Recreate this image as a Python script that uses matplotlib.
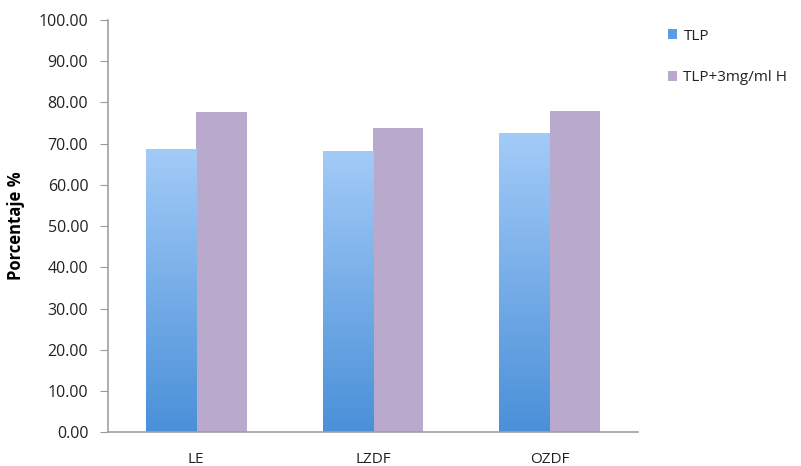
import numpy as np
import matplotlib.pyplot as plt
from matplotlib.colors import LinearSegmentedColormap
from matplotlib.patches import Patch

categories = ["LE", "LZDF", "OZDF"]
series_names = ["TLP", "TLP+3mg/ml H"]
tlp = [68.8, 68.2, 72.5]
tlp_h = [77.7, 73.8, 77.8]
yticks = [0, 10, 20, 30, 40, 50, 60, 70, 80, 90, 100]

plt.rcParams['font.family'] = ['Open Sans', 'DejaVu Sans']

fig = plt.figure(figsize=(8.01, 4.66), dpi=100)
ax = fig.add_axes([0.1345, 0.0723, 0.6624, 0.885])

x = np.arange(len(categories))
w = 0.285
blue_cmap = LinearSegmentedColormap.from_list("blue", ["#4a90d8", "#a3cbf8"])
purple = "#b9aacd"

bars1 = ax.bar(x - w / 2, tlp, w, color="none", edgecolor="none")
bars2 = ax.bar(x + w / 2, tlp_h, w, color=purple, edgecolor="none")

# vertical gradient fill for the first series, dark at the base, light at the top
grad = np.linspace(0, 1, 256).reshape(-1, 1)
for b in bars1:
    x0, x1 = b.get_x(), b.get_x() + b.get_width()
    h = b.get_height()
    im = ax.imshow(grad, cmap=blue_cmap, origin="lower", aspect="auto",
                   extent=[x0, x1, 0, h], vmin=0, vmax=1, zorder=2)
    im.set_clip_path(b)

ax.set_xlim(-0.5, 2.5)
ax.set_ylim(0, 100)
ax.set_xticks(x)
ax.set_xticklabels(categories, fontsize=11, color="#222222")
ax.set_yticks(yticks)
ax.set_yticklabels([f"{v:.2f}" for v in yticks], fontsize=11.5, color="#222222")
ax.tick_params(axis="x", length=0, pad=14)
ax.tick_params(axis="y", length=6, color="#999999", pad=8)

for s in ["top", "right"]:
    ax.spines[s].set_visible(False)
for s in ["left", "bottom"]:
    ax.spines[s].set_color("#a0a0a0")
    ax.spines[s].set_linewidth(1.2)

ax.set_ylabel("Porcentaje %", fontsize=12, fontweight="bold")
ax.yaxis.set_label_coords(-0.155, 0.5)

handles = [Patch(facecolor="#5b9de2", edgecolor="none"),
           Patch(facecolor=purple, edgecolor="none")]
fig.legend(handles, series_names, loc="upper left", bbox_to_anchor=(0.817, 0.968),
           frameon=False, fontsize=11, handlelength=0.6, handleheight=0.6,
           handletextpad=0.4, labelspacing=1.75, labelcolor="#222222")

fig.savefig("out.png", dpi=100)
